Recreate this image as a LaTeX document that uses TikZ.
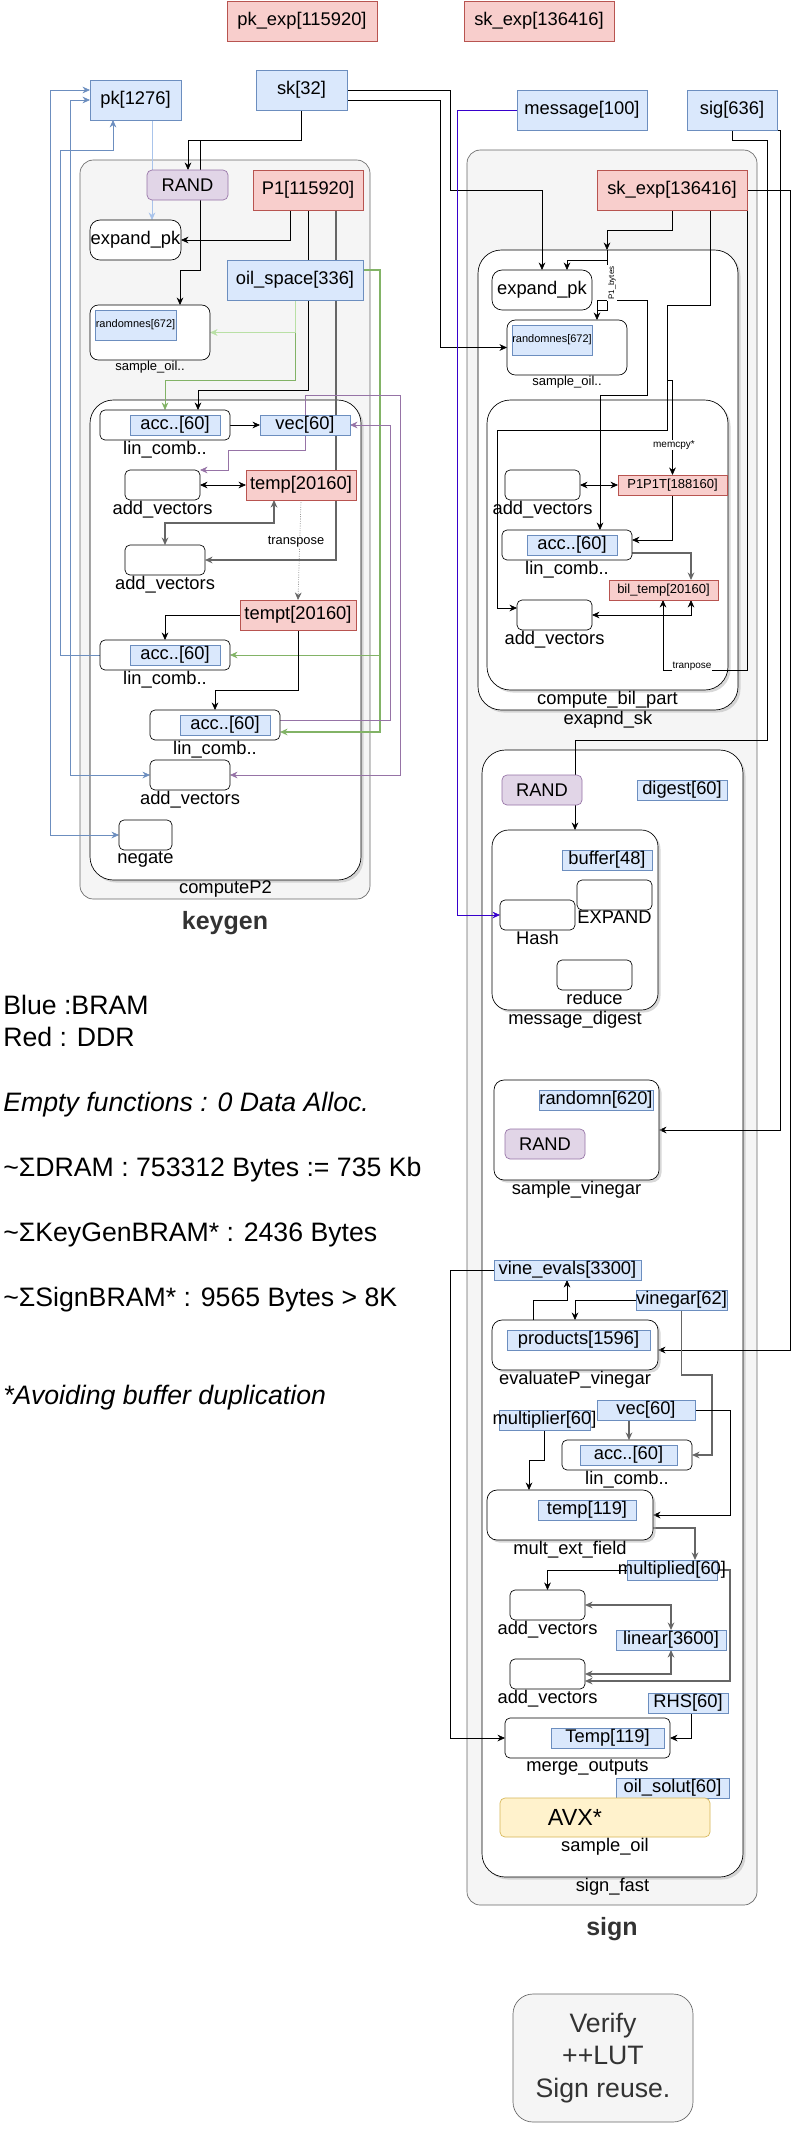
\documentclass[tikz,border=0pt]{standalone}
\usepackage{fontspec}
\setmainfont{Liberation Sans}
\usetikzlibrary{arrows.meta,shadows}

\definecolor{bramfill}{HTML}{DAE8FC}
\definecolor{bramline}{HTML}{6C8EBF}
\definecolor{ddrfill}{HTML}{F8CECC}
\definecolor{ddrline}{HTML}{B85450}
\definecolor{randfill}{HTML}{E1D5E7}
\definecolor{randline}{HTML}{9673A6}
\definecolor{avxfill}{HTML}{FFF2CC}
\definecolor{avxline}{HTML}{D6B656}
\definecolor{grpfill}{HTML}{F5F5F5}
\definecolor{grpline}{HTML}{666666}
\definecolor{oilgreen}{HTML}{82B366}
\definecolor{oilgreenl}{HTML}{B9E0A5}
\definecolor{pkblue}{HTML}{6C8EBF}
\definecolor{pkbluel}{HTML}{A9C4EB}
\definecolor{msgblue}{HTML}{3700CC}
\definecolor{txtgray}{HTML}{333333}

\pgfdeclarelayer{bg}
\pgfdeclarelayer{wires}
\pgfsetlayers{bg,wires,main}

\begin{document}
\begin{tikzpicture}[x=0.6pt, y=-0.6pt, line width=0.6pt,
  >={Stealth[length=4.5pt,width=4pt]},
  sz/.style 2 args={minimum width=#1*0.6pt, minimum height=#2*0.6pt},
  base/.style={rectangle, inner sep=0pt, outer sep=0pt, font=\fontsize{11}{13}\selectfont},
  bram/.style={base, draw=bramline, fill=bramfill},
  ddr/.style={base, draw=ddrline, fill=ddrfill},
  randbox/.style={base, rounded corners=3pt, draw=randline, fill=randfill},
  fnbox/.style={base, rounded corners=3pt, draw=black, fill=white},
  fnshad/.style={fnbox, rounded corners=6pt, drop shadow={shadow xshift=1.5pt, shadow yshift=-1.5pt, fill=black!30}},
  cont/.style={fnshad, rounded corners=14pt},
  grp/.style={base, rounded corners=8pt, draw=grpline, fill=grpfill},
  lbl/.style={inner sep=0.5pt, font=\fontsize{11}{13}\selectfont},
  smlbl/.style={inner sep=0.5pt, font=\fontsize{7.8}{9}\selectfont},
  tinylbl/.style={inner sep=0.5pt, fill=white, font=\fontsize{6}{7}\selectfont},
  grplbl/.style={label distance=4pt, text=txtgray, font=\fontsize{15}{18}\selectfont\bfseries},
  legend/.style={anchor=west, inner sep=0pt, font=\fontsize{16}{19}\selectfont},
  grayln/.style={draw=black!60, line width=1pt},
]
\useasboundingbox (0,0) rectangle (799,2131);

\begin{pgfonlayer}{bg}
\node[grp, sz={290}{739}, label={[grplbl]below:keygen}] (keygen) at (225,529.5) {};
\node[grp, sz={290}{1755}, label={[grplbl]below:sign}] (sign) at (612,1027.5) {};
\node[cont, sz={271}{480}, label={[lbl]below:computeP2}] (cp2) at (225.5,640) {};
\node[cont, sz={260}{460}, label={[lbl]below:exapnd\_sk}] (expsk) at (608,480) {};
\node[cont, sz={241}{290}, label={[lbl]below:compute\_bil\_part}] (cbp) at (607.5,545) {};
\node[cont, sz={261}{1127}, label={[lbl]below:sign\_fast}] (sf) at (612.5,1313.5) {};
\node[fnshad, rounded corners=10pt, sz={166}{180}, label={[lbl]below:message\_digest}] (md) at (575,920) {};
\end{pgfonlayer}

\node[ddr, sz={150}{40}] (pkexp) at (302,21) {pk\_exp[115920]};
\node[ddr, sz={150}{40}] (skexp) at (539,21) {sk\_exp[136416]};
\node[bram, sz={91}{40}] (pk) at (135.5,100) {pk[1276]};
\node[bram, sz={91}{40}] (sk) at (301.5,90) {sk[32]};
\node[bram, sz={130}{40}] (message) at (582,110) {message[100]};
\node[bram, sz={90}{40}] (sig) at (732,110) {sig[636]};

\node[randbox, sz={81}{30}] (rand1) at (187.5,185) {RAND};
\node[ddr, sz={110}{40}] (P1) at (308,190) {P1[115920]};
\node[fnbox, rounded corners=6pt, sz={91}{40}] (expk1) at (135.5,240) {expand\_pk};
\node[bram, sz={136}{40}] (oilsp) at (295,280) {oil\_space[336]};
\node[fnbox, rounded corners=5pt, sz={120}{55}, label={[smlbl]below:sample\_oil..}] (soil1) at (150,332.5) {};
\node[bram, sz={81}{30}, font=\fontsize{6.6}{8}\selectfont] (rnd1) at (135.5,325) {randomnes[672]};
\node[fnbox, sz={130}{30}, label={[lbl]below:lin\_comb..}] (lc1) at (165,425) {};
\node[bram, sz={90}{20}] (acc1) at (175,425) {acc..[60]};
\node[bram, sz={90}{20}] (vec1) at (305,425) {vec[60]};
\node[fnbox, sz={75}{30}, label={[lbl]below:add\_vectors}] (av1) at (162.5,485) {};
\node[ddr, sz={110}{30}] (temp1) at (301,485) {temp[20160]};
\node[fnbox, sz={80}{30}, label={[lbl]below:add\_vectors}] (av2) at (165,560) {};
\node[tinylbl, font=\fontsize{7.7}{9}\selectfont] (trlbl) at (296,542) {transpose};
\node[ddr, sz={116}{30}] (tempt1) at (298,615) {tempt[20160]};
\node[fnbox, sz={130}{30}, label={[lbl]below:lin\_comb..}] (lc2) at (165,655) {};
\node[bram, sz={90}{20}] (acc2) at (175,655) {acc..[60]};
\node[fnbox, sz={130}{30}, label={[lbl]below:lin\_comb..}] (lc3) at (215,725) {};
\node[bram, sz={90}{20}] (acc3) at (225,725) {acc..[60]};
\node[fnbox, sz={80}{30}, label={[lbl]below:add\_vectors}] (av3) at (190,775) {};
\node[fnbox, sz={53}{30}, label={[lbl]below:negate}] (neg) at (145.5,835) {};

\node[ddr, sz={150}{40}] (skexp2) at (672,190) {sk\_exp[136416]};
\node[fnbox, rounded corners=6pt, sz={100}{40}] (expk2) at (542,290) {expand\_pk};
\node[fnbox, rounded corners=5pt, sz={120}{55}, label={[smlbl]below:sample\_oil..}] (soil2) at (567,347.5) {};
\node[bram, sz={80}{30}, font=\fontsize{6.6}{8}\selectfont] (rnd2) at (552,340) {randomnes[672]};
\node[tinylbl, rotate=90, font=\fontsize{4.8}{5}\selectfont] (p1lbl) at (612,283) {P1\_bytes};
\node[tinylbl] (memlbl) at (674,445) {memcpy*};
\node[fnbox, sz={75}{30}, label={[lbl]below:add\_vectors}] (av4) at (542.5,485) {};
\node[ddr, sz={109}{20}, font=\fontsize{7.8}{9}\selectfont] (p1p1t) at (672.5,485) {P1P1T[188160]};
\node[fnbox, sz={130}{30}, label={[lbl]below:lin\_comb..}] (lc4) at (567,545) {};
\node[bram, sz={90}{20}] (acc4) at (572,545) {acc..[60]};
\node[ddr, sz={109}{20}, font=\fontsize{7.8}{9}\selectfont] (biltemp) at (663.5,590) {bil\_temp[20160]};
\node[fnbox, sz={75}{30}, label={[lbl]below:add\_vectors}] (av5) at (554.5,615) {};
\node[tinylbl] (trplbl) at (692,666) {tranpose};

\node[randbox, sz={80}{30}] (rand2) at (542,790) {RAND};
\node[bram, sz={90}{20}] (digest) at (682,790) {digest[60]};
\node[bram, sz={90}{20}] (buffer) at (607,860) {buffer[48]};
\node[fnbox, sz={75}{30}, label={[lbl]below:EXPAND}] (expandb) at (614.5,895) {};
\node[fnbox, sz={75}{30}, label={[lbl]below:Hash}] (hash) at (537.5,915) {};
\node[fnbox, sz={75}{30}, label={[lbl]below:reduce}] (reduce) at (594.5,975) {};
\node[fnshad, sz={165}{100}, label={[lbl]below:sample\_vinegar}] (sv) at (576.5,1130) {};
\node[bram, sz={114}{20}] (randomn) at (596,1100) {\makebox[0pt]{randomn[620]}};
\node[randbox, sz={80}{30}] (rand3) at (545,1144) {RAND};
\node[bram, sz={147}{20}] (vine) at (567.5,1270) {vine\_evals[3300]};
\node[bram, sz={91}{20}] (vinegar) at (681.5,1300) {\makebox[0pt]{vinegar[62]}};
\node[fnshad, sz={166}{50}, label={[lbl]below:evaluateP\_vinegar}] (evp) at (575,1345) {};
\node[bram, sz={143}{20}] (products) at (578.5,1340) {products[1596]};
\node[bram, sz={98}{20}] (vec2) at (646,1410) {vec[60]};
\node[bram, sz={91}{20}] (mult) at (544.5,1420) {\makebox[0pt]{multiplier[60]}};
\node[fnbox, sz={130}{30}, label={[lbl]below:lin\_comb..}] (lc5) at (627,1455) {};
\node[bram, sz={97}{20}] (acc5) at (628.5,1455) {acc..[60]};
\node[fnshad, sz={166}{50}, label={[lbl]below:mult\_ext\_field}] (mef) at (570,1515) {};
\node[bram, sz={98}{20}] (temp2) at (587,1510) {temp[119]};
\node[bram, sz={90}{20}] (multd) at (672,1570) {\makebox[0pt]{multiplied[60]}};
\node[fnbox, sz={75}{30}, label={[lbl]below:add\_vectors}] (av6) at (547.5,1605) {};
\node[bram, sz={110}{20}] (linear) at (671,1640) {linear[3600]};
\node[fnbox, sz={75}{30}, label={[lbl]below:add\_vectors}] (av7) at (547.5,1674) {};
\node[bram, sz={80}{20}] (rhs) at (688,1703) {RHS[60]};
\node[fnbox, sz={165}{40}, label={[lbl]below:merge\_outputs}] (merge) at (587.5,1738) {};
\node[bram, sz={113}{20}] (Temp) at (607.5,1738) {Temp[119]};
\node[bram, sz={113}{20}] (oilsol) at (672.5,1788) {oil\_solut[60]};
\node[base, rounded corners=3pt, draw=avxline, fill=avxfill, sz={210}{39}, font=\fontsize{14}{16}\selectfont, label={[lbl]below:sample\_oil}] (avx) at (605,1817.5) {\makebox[0pt]{\hspace{-36pt}AVX*}};

\node[base, rounded corners=12pt, draw=grpline, fill=grpfill, sz={180}{128}, align=center, text=txtgray, font=\fontsize{16}{19.5}\selectfont] (verify) at (603,2058) {Verify\\++LUT\\Sign reuse.};

\node[legend] (lgblue) at (3,1005) {Blue :BRAM};
\node[legend] (lgred) at (3,1037) {Red : DDR};
\node[legend, font=\fontsize{16}{19}\selectfont\itshape] (lgempty) at (3,1105) {Empty functions : 0 Data Alloc.};
\node[legend] (lgdram) at (3,1170) {\textasciitilde ΣDRAM : 753312 Bytes := 735 Kb};
\node[legend] (lgkey) at (3,1235) {\textasciitilde ΣKeyGenBRAM* : 2436 Bytes};
\node[legend] (lgsign) at (3,1300) {\textasciitilde ΣSignBRAM* : 9565 Bytes > 8K};
\node[legend, font=\fontsize{16}{19}\selectfont\itshape] (lgnote) at (3,1398) {*Avoiding buffer duplication};

\begin{pgfonlayer}{wires}
\coordinate (skbr) at (200,140);
\coordinate (oilbr) at (295,333);
\coordinate (greenbr) at (380,655);
\coordinate (expbr) at (607,260);
\coordinate (expbr2) at (607,250);
\coordinate (solbr) at (597,310);
\coordinate (membr) at (667,380);

\draw[pkbluel,->] (152,0 |- pk.south) -- (152,0 |- expk1.north);
\draw[pkblue,->] (lc2.west) -| (60,150) -| (113,0 |- pk.south);
\draw[pkblue,<->] (neg.west) -- (50,0 |- neg.west) |- ([yshift=6pt]pk.west);
\draw[pkblue,<->] (av3.west) -- (70,0 |- av3.west) |- (pk.west);

\draw[->] (sk.south) |- (188,140) -- (188,0 |- rand1.north);
\draw[->] (skbr) |- (180,270) -- (180,0 |- soil1.north);
\draw[->] (290,0 |- P1.south) |- (expk1.east);
\draw[->] (308,0 |- P1.south) |- (198,390) -- (198,0 |- lc1.north);
\draw[grayln,->] (336,0 |- P1.south) |- (av2.east);
\draw[oilgreenl,->] (oilsp.south) |- (soil1.east);
\draw[oilgreen,->] (oilbr) |- (165,380) -- (lc1.north);
\draw[oilgreen,line width=1.2pt,->] ([yshift=6pt]oilsp.east) -| (380,732) -- (lc3.east |- 0,732);
\draw[oilgreen,->] (greenbr) -- (lc2.east);
\draw[->] (lc1.east) -- (vec1.west);
\draw[randline,->] (vec1.south) |- (228,450) |- (av1.north east);
\draw[randline,->] (vec1.north) |- (400,395) |- (av3.east);
\draw[randline,->] ([yshift=3pt]lc3.east) -| (390,425) -- (vec1.east);
\draw[<->] (av1.east) -- (temp1.west);
\draw[grayln,<->] (av2.north) |- (274,523) -- (274,0 |- temp1.south);
\draw[black!60,densely dotted,->] (temp1.south) -- (tempt1.north);
\draw[->] (tempt1.west) -| (lc2.north);
\draw[->] (tempt1.south) |- (215,690) -- (lc3.north);

\draw[->] (sk.east) -| (450,190) -| (expk2.north);
\draw[->] ([yshift=-6pt]sk.east) -| (440,347.5) -- (soil2.west);
\draw[msgblue,->] (message.west) -| (457,915) -- (hash.west);
\draw[->] (sig.south) |- (767,140) |- (575,740) -- (md.north);
\draw[->] (755,0 |- sig.south) -| (780,1130) -- (sv.east);
\draw[->] (skexp2.south) |- (607,230) -- (607,0 |- expsk.north);
\draw[->] (expbr) -| (567,0 |- expk2.north);
\draw[->] (expbr2) |- (solbr) -- (597,0 |- soil2.north);
\draw[->] (solbr) |- (647,300) |- (600,395) -- (600,0 |- lc4.north);
\draw[->] (710,0 |- skexp2.south) |- (667,305) -- (667,430) -| (497,608) -- (av5.west |- 0,608);
\draw[->] (membr) -| (p1p1t.north);
\draw[<->] (av4.east) -- (p1p1t.west);
\draw[->] (p1p1t.south) |- (lc4.east |- 0,540);
\draw[grayln,->] (lc4.east |- 0,553) -| (691,0 |- biltemp.north);
\draw[<->] (av5.east) -| (691,0 |- biltemp.south);
\draw[->] (skexp2.south east) |- (663,670) -- (663,0 |- biltemp.south);
\draw[->] (skexp2.east) -| (790,1350) -- (evp.east |- 0,1350);

\draw[->] (533,0 |- evp.north) |- (567,1300) -- (567,0 |- vine.south);
\draw[->] (vinegar.west) -| (evp.north);
\draw[grayln,->] (vinegar.south) |- (712,1375) |- (lc5.east);
\draw[grayln,->] (629,0 |- vec2.south) -- (629,0 |- lc5.north);
\draw[->] (vec2.east) -| (730,1515) -- (mef.east);
\draw[->] (mult.south) |- (529,1460) -- (529,0 |- mef.north);
\draw[grayln,->] (mef.east |- 0,1528) -| (695,0 |- multd.north);
\draw[->] (multd.west) -| (av6.north);
\draw[grayln,->] (multd.east) -| (730,1681) -- (av7.east |- 0,1681);
\draw[grayln,<->] (av6.east) -| (linear.north);
\draw[grayln,<->] (av7.east) -| (linear.south);
\draw[->] (691,0 |- rhs.south) |- (merge.east);
\draw[->] (vine.west) -| (450,1738) -- (merge.west);
\end{pgfonlayer}

\end{tikzpicture}
\end{document}
